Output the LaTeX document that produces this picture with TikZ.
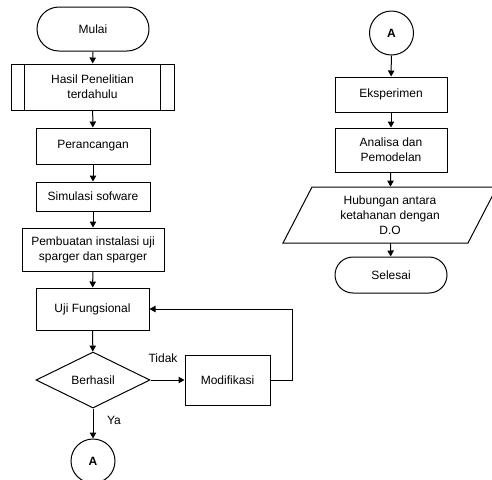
\documentclass[tikz,border=0pt]{standalone}
\usepackage{fontspec}
\setmainfont{Liberation Sans}
\usetikzlibrary{shapes.geometric,shapes.misc,arrows.meta,calc}
\begin{document}
\begin{tikzpicture}[x=0.5pt,y=-0.5pt,
  every node/.style={font=\fontsize{6}{7.5}\selectfont, align=center, inner sep=0pt},
  box/.style={draw, line width=0.5pt, rectangle},
  term/.style={draw, line width=0.5pt, rounded rectangle, minimum width=56pt, minimum height=18pt},
  conn/.style={draw, line width=0.5pt, circle, minimum size=22pt, font=\fontsize{6}{7.5}\selectfont\bfseries},
  dec/.style={draw, line width=0.5pt, diamond, aspect=2.03, minimum width=57pt, minimum height=28pt},
  arr/.style={line width=0.5pt, -{Triangle[length=3pt,width=3.2pt]}},
  lbl/.style={font=\fontsize{6}{7.5}\selectfont}
]
\useasboundingbox (0,0) rectangle (492,479);

% left column
\node[term, minimum height=22pt] (mulai) at (93,29) {Mulai};
\node[box, minimum width=81.5pt, minimum height=23pt] (hasil) at (92.5,87) {Hasil Penelitian\\terdahulu};
\draw[line width=0.5pt] ($(hasil.north west)+(14,0)$) -- ($(hasil.south west)+(14,0)$);
\draw[line width=0.5pt] ($(hasil.north east)+(-14,0)$) -- ($(hasil.south east)+(-14,0)$);
\node[box, minimum width=57pt, minimum height=18pt] (peranc) at (93,146) {Perancangan};
\node[box, minimum width=57pt, minimum height=14.5pt] (simul) at (93,196.5) {Simulasi sofware};
\node[box, minimum width=71pt, minimum height=21.5pt] (pemb) at (93,249.5) {Pembuatan instalasi uji\\sparger dan sparger};
\node[box, minimum width=56.5pt, minimum height=21pt] (uji) at (92.5,309) {Uji Fungsional};
\node[dec] (berhasil) at (93,380) {Berhasil};
\node[box, minimum width=42.5pt, minimum height=25pt] (modif) at (227.5,380) {Modifikasi};
\node[conn] (a1) at (93,461) {A};
\coordinate (fb) at (292,380);

\draw[arr] (mulai) -- (hasil);
\draw[arr] (hasil) -- (peranc);
\draw[arr] (peranc) -- (simul);
\draw[arr] (simul) -- (pemb);
\draw[arr] (pemb) -- (uji);
\draw[arr] (uji) -- (berhasil);
\draw[arr] (berhasil) -- (modif);
\draw[arr] (berhasil) -- (a1);
\draw[arr] (modif.east) -- (fb) |- (uji.east);
\node[lbl] (tidak) at (163,358) {Tidak};
\node[lbl] (ya) at (114,420) {Ya};

% right column
\node[conn] (a2) at (391.5,33) {A};
\node[box, minimum width=56pt, minimum height=17.5pt] (eksp) at (391,94.5) {Eksperimen};
\node[box, minimum width=56pt, minimum height=22pt] (anal) at (391,150) {Analisa dan\\Pemodelan};
\node[minimum width=78pt, minimum height=28pt] (para) at (390,215) {Hubungan antara\\ketahanan dengan\\D.O};
\draw[line width=0.5pt] (312,187) -- (497,187) -- (468,243) -- (283,243) -- cycle;
\node[term] (selesai) at (391,275) {Selesai};

\draw[arr] (a2) -- (eksp);
\draw[arr] (eksp) -- (anal);
\draw[arr] (anal) -- (para);
\draw[arr] (para) -- (selesai);
\end{tikzpicture}
\end{document}
